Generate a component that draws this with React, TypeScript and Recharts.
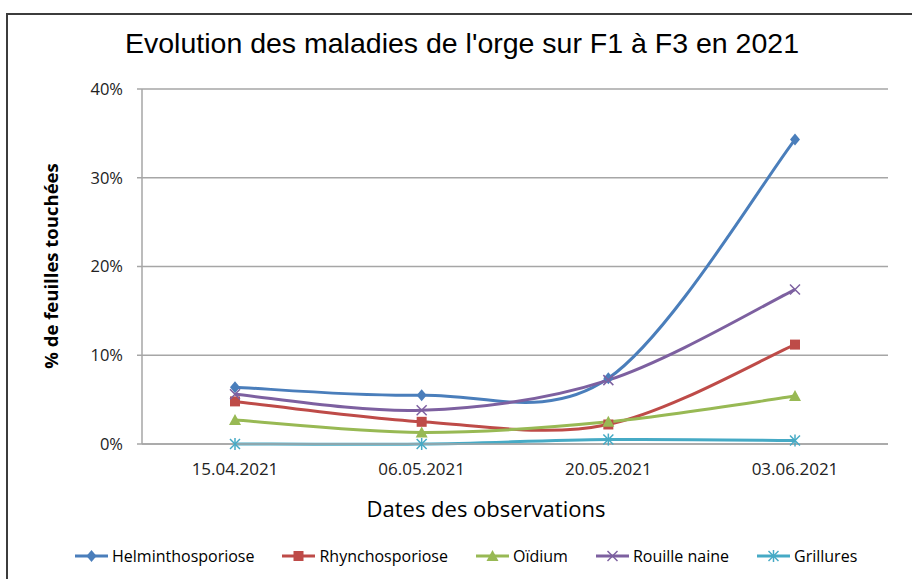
import React from 'react';
import { LineChart, Line, XAxis, YAxis, CartesianGrid } from 'recharts';

const dates = ['15.04.2021', '06.05.2021', '20.05.2021', '03.06.2021'];
const helminthosporiose = [6.4, 5.5, 7.4, 34.3];
const rhynchosporiose = [4.8, 2.5, 2.2, 11.2];
const oidium = [2.7, 1.3, 2.5, 5.4];
const rouilleNaine = [5.6, 3.8, 7.2, 17.4];
const grillures = [0, 0, 0.5, 0.4];
const yTicks = [0, 10, 20, 30, 40];

const series = [
  { key: 'helmintho', name: 'Helminthosporiose', color: '#4a7ebb', shape: 'diamond', values: helminthosporiose },
  { key: 'rhyncho', name: 'Rhynchosporiose', color: '#be4b48', shape: 'square', values: rhynchosporiose },
  { key: 'oidium', name: 'Oïdium', color: '#98b954', shape: 'triangle', values: oidium },
  { key: 'rouille', name: 'Rouille naine', color: '#7d60a0', shape: 'cross', values: rouilleNaine },
  { key: 'grillures', name: 'Grillures', color: '#46aac5', shape: 'star', values: grillures },
];

const data = dates.map((d, i) => {
  const row: Record<string, any> = { date: d };
  series.forEach(s => { row[s.key] = s.values[i]; });
  return row;
});

// Excel-like smoothed line (Catmull-Rom through the points)
function excelSmooth(context: any) {
  let pts: number[][] = [];
  return {
    areaStart() {},
    areaEnd() {},
    lineStart() { pts = []; },
    point(x: number, y: number) { pts.push([+x, +y]); },
    lineEnd() {
      const n = pts.length;
      if (!n) return;
      context.moveTo(pts[0][0], pts[0][1]);
      for (let i = 0; i < n - 1; i++) {
        const p0 = pts[Math.max(i - 1, 0)];
        const p1 = pts[i];
        const p2 = pts[i + 1];
        const p3 = pts[Math.min(i + 2, n - 1)];
        context.bezierCurveTo(
          p1[0] + (p2[0] - p0[0]) / 6, p1[1] + (p2[1] - p0[1]) / 6,
          p2[0] - (p3[0] - p1[0]) / 6, p2[1] - (p3[1] - p1[1]) / 6,
          p2[0], p2[1],
        );
      }
    },
  };
}

function Marker({ shape, cx, cy, color }: { shape: string; cx: number; cy: number; color: string }) {
  if (shape === 'diamond') {
    return <polygon points={`${cx},${cy - 6} ${cx + 5},${cy} ${cx},${cy + 6} ${cx - 5},${cy}`} fill={color} />;
  }
  if (shape === 'square') {
    return <rect x={cx - 5} y={cy - 5} width={10} height={10} fill={color} />;
  }
  if (shape === 'triangle') {
    return <polygon points={`${cx},${cy - 6} ${cx + 6},${cy + 5} ${cx - 6},${cy + 5}`} fill={color} />;
  }
  if (shape === 'cross') {
    return (
      <g stroke={color} strokeWidth={1.5}>
        <line x1={cx - 5} y1={cy - 5} x2={cx + 5} y2={cy + 5} />
        <line x1={cx - 5} y1={cy + 5} x2={cx + 5} y2={cy - 5} />
      </g>
    );
  }
  return (
    <g stroke={color} strokeWidth={1.5}>
      <line x1={cx - 5} y1={cy - 5} x2={cx + 5} y2={cy + 5} />
      <line x1={cx - 5} y1={cy + 5} x2={cx + 5} y2={cy - 5} />
      <line x1={cx} y1={cy - 6} x2={cx} y2={cy + 6} />
    </g>
  );
}

const sans = '"Open Sans", sans-serif';

export default function App() {
  return (
    <div style={{ position: 'absolute', left: 0, top: 0, width: 912, height: 579, background: '#fff', overflow: 'hidden' }}>
      <div style={{ position: 'absolute', left: 0, top: 0 }}>
        <LineChart width={912} height={579} data={data} margin={{ top: 89, right: 24, left: 0, bottom: 105 }}>
          <CartesianGrid vertical={false} stroke="#a6a6a6" strokeWidth={1.5} />
          <XAxis
            dataKey="date"
            height={30}
            padding={{ left: 93, right: 93 }}
            axisLine={{ stroke: '#a6a6a6', strokeWidth: 1.5 }}
            tickLine={false}
            tickSize={5}
            tickMargin={14}
            tick={{ fill: '#222', fontSize: 17, fontFamily: sans }}
          />
          <YAxis
            width={142}
            domain={[0, 40]}
            ticks={yTicks}
            tickFormatter={(v) => `${v}%`}
            axisLine={{ stroke: '#a6a6a6', strokeWidth: 1.5 }}
            tickLine={{ stroke: '#a6a6a6', strokeWidth: 1.5 }}
            tickSize={5}
            tickMargin={14}
            tick={{ fill: '#222', fontSize: 16.5, fontFamily: sans }}
          />
          {series.map(s => (
            <Line
              key={s.key}
              dataKey={s.key}
              name={s.name}
              type={excelSmooth as any}
              stroke={s.color}
              strokeWidth={3}
              isAnimationActive={false}
              dot={(p: any) => <Marker key={`${s.key}-${p.index}`} shape={s.shape} cx={p.cx} cy={p.cy} color={s.color} />}
              activeDot={false}
            />
          ))}
        </LineChart>
      </div>
      <div style={{ position: 'absolute', left: 0, top: 27, width: 924, textAlign: 'center', fontFamily: '"Liberation Sans", Arial, sans-serif', fontSize: 28.5, color: '#000' }}>
        Evolution des maladies de l'orge sur F1 à F3 en 2021
      </div>
      <div style={{ position: 'absolute', left: 0, top: 493, width: 972, textAlign: 'center', fontFamily: sans, fontSize: 22, color: '#000' }}>
        Dates des observations
      </div>
      <div
        style={{
          position: 'absolute', left: 50, top: 266, whiteSpace: 'nowrap', fontFamily: sans, fontSize: 18.5, fontWeight: 'bold',
          color: '#000', transform: 'translate(-50%, -50%) rotate(-90deg)',
        }}
      >
        % de feuilles touchées
      </div>
      <div style={{ position: 'absolute', left: 75, top: 545, display: 'flex', gap: 28, fontFamily: sans, fontSize: 16, color: '#000' }}>
        {series.map(s => (
          <div key={s.key} style={{ display: 'flex', alignItems: 'center', gap: 4 }}>
            <svg width={33} height={16}>
              <line x1={0} y1={8} x2={33} y2={8} stroke={s.color} strokeWidth={3} />
              <Marker shape={s.shape} cx={16.5} cy={8} color={s.color} />
            </svg>
            <span>{s.name}</span>
          </div>
        ))}
      </div>
      {/* chart frame: only left and top edges are visible */}
      <div style={{ position: 'absolute', zIndex: 2, left: 6, top: 13, width: 906, height: 2, background: '#3c3c3c' }} />
      <div style={{ position: 'absolute', zIndex: 2, left: 6, top: 13, width: 2, height: 566, background: '#3c3c3c' }} />
    </div>
  );
}
